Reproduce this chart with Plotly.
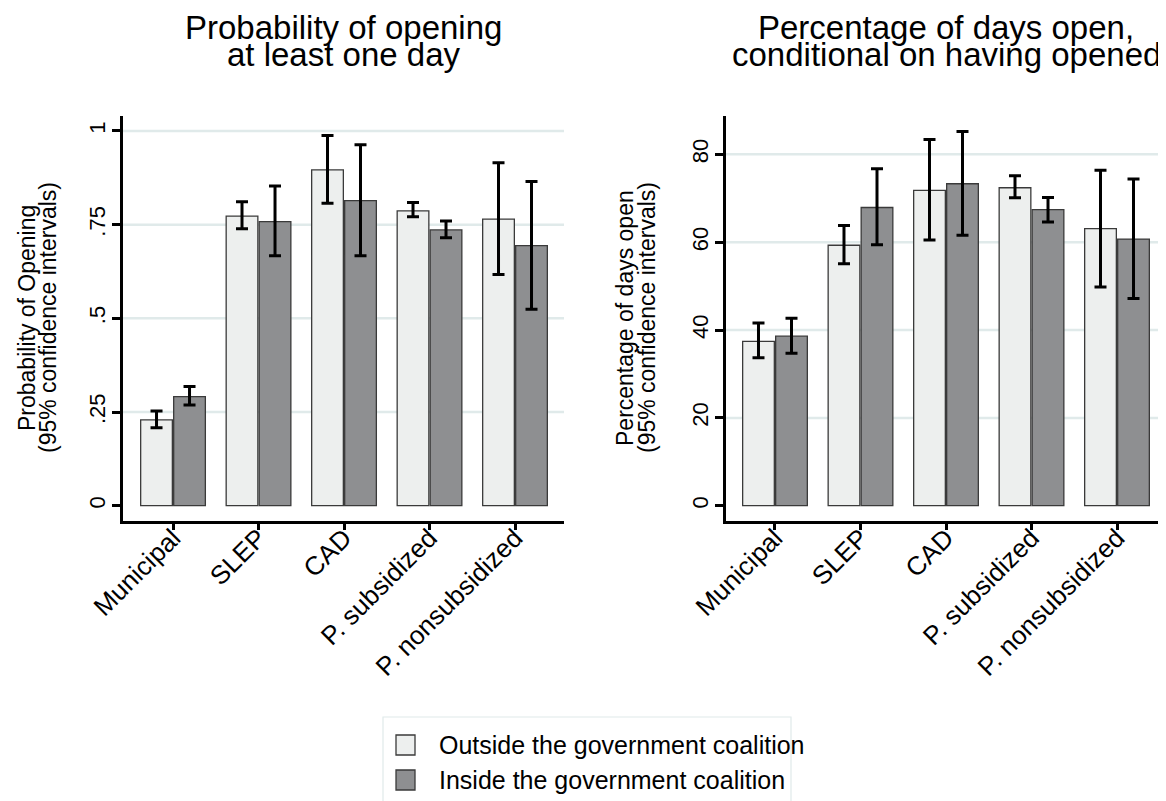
import plotly.graph_objects as go

categories = ["Municipal", "SLEP", "CAD", "P. subsidized", "P. nonsubsidized"]
series_names = ["Outside the government coalition", "Inside the government coalition"]

# Panel 1: probability of opening at least one day
prob_out = [0.229, 0.773, 0.896, 0.787, 0.765]
prob_out_lo = [0.208, 0.739, 0.807, 0.771, 0.617]
prob_out_hi = [0.253, 0.811, 0.988, 0.809, 0.915]
prob_in = [0.291, 0.758, 0.814, 0.736, 0.694]
prob_in_lo = [0.269, 0.667, 0.667, 0.715, 0.524]
prob_in_hi = [0.318, 0.853, 0.963, 0.760, 0.865]

# Panel 2: percentage of days open, conditional on having opened
days_out = [37.4, 59.3, 71.8, 72.4, 63.1]
days_out_lo = [33.7, 55.1, 60.5, 70.1, 49.8]
days_out_hi = [41.6, 63.8, 83.4, 75.1, 76.4]
days_in = [38.6, 67.9, 73.3, 67.4, 60.7]
days_in_lo = [34.7, 59.4, 61.6, 64.6, 47.2]
days_in_hi = [42.7, 76.7, 85.2, 70.2, 74.4]

prob_ticks = [0, 0.25, 0.5, 0.75, 1]
prob_ticktext = ["0", ".25", ".5", ".75", "1"]
days_ticks = [0, 20, 40, 60, 80]
days_ticktext = ["0", "20", "40", "60", "80"]

FONT = "Liberation Sans, Arial, Helvetica, sans-serif"
LIGHT = "#edefee"
DARK = "#8e8f91"
OUTLINE = "#3a3a3a"
GRID = "#e0eaea"
PAGE_OFF = 8            # page body margin in the browser
W, H = 1166 - PAGE_OFF, 801 - PAGE_OFF


def px_x(p):
    return (p - PAGE_OFF) / W


def px_y(p):
    return 1 - (p - PAGE_OFF) / H


fig = go.Figure()


def add_bar(vals, lo, hi, color, name, xa, ya):
    fig.add_trace(go.Bar(
        x=categories, y=vals, name=name, xaxis=xa, yaxis=ya,
        marker=dict(color=color, line=dict(color=OUTLINE, width=1.3)),
        error_y=dict(type="data", symmetric=False,
                     array=[h - v for h, v in zip(hi, vals)],
                     arrayminus=[v - l for v, l in zip(vals, lo)],
                     color="black", thickness=3, width=6),
        showlegend=False,
    ))


add_bar(prob_out, prob_out_lo, prob_out_hi, LIGHT, series_names[0], "x", "y")
add_bar(prob_in, prob_in_lo, prob_in_hi, DARK, series_names[1], "x", "y")
add_bar(days_out, days_out_lo, days_out_hi, LIGHT, series_names[0], "x2", "y2")
add_bar(days_in, days_in_lo, days_in_hi, DARK, series_names[1], "x2", "y2")

xcommon = dict(showline=True, linecolor="black", linewidth=2.5, ticks="outside",
               ticklen=7, tickwidth=2.5, tickcolor="black", tickangle=-45,
               tickfont=dict(family=FONT, size=26, color="black"),
               ticklabelstandoff=-18,
               showgrid=False, zeroline=False, fixedrange=True, automargin=False)
ycommon = dict(showline=True, linecolor="black", linewidth=2.5, ticks="outside",
               ticklen=8, tickwidth=2.5, tickcolor="black", tickangle=-90,
               tickfont=dict(family=FONT, size=22, color="black"),
               ticklabelstandoff=-2,
               showgrid=False, zeroline=False, automargin=False,
               domain=[px_y(520.7), px_y(116)])

fig.update_layout(
    width=W, height=H,
    margin=dict(l=0, r=0, t=0, b=0, autoexpand=False),
    paper_bgcolor="white", plot_bgcolor="white",
    barmode="group", bargap=0.228, bargroupgap=0.04,
    xaxis=dict(domain=[px_x(123), px_x(564)], range=[-0.585, 4.573], anchor="y", **xcommon),
    xaxis2=dict(domain=[px_x(726), 1.0], range=[-0.573, 4.573], anchor="y2", **xcommon),
    yaxis=dict(range=[-0.04, 1.04], tickvals=prob_ticks, ticktext=prob_ticktext,
               anchor="x", **ycommon),
    yaxis2=dict(range=[-3.41, 88.73], tickvals=days_ticks, ticktext=days_ticktext,
                anchor="x2", **ycommon),
    font=dict(family=FONT, color="black"),
)

# gridlines (skip zero)
for t in prob_ticks[1:]:
    fig.add_shape(type="line", xref="x domain", yref="y", x0=0, x1=1, y0=t, y1=t,
                  line=dict(color=GRID, width=2.5), layer="below")
for t in days_ticks[1:]:
    fig.add_shape(type="line", xref="x2 domain", yref="y2", x0=0, x1=1, y0=t, y1=t,
                  line=dict(color=GRID, width=2.5), layer="below")

# titles
titles = [
    (343.5, ["Probability of opening", "at least one day"]),
    (946, ["Percentage of days open,", "conditional on having opened"]),
]
for cx, lines in titles:
    for i, line in enumerate(lines):
        fig.add_annotation(text=line, xref="paper", yref="paper",
                           x=px_x(cx), y=px_y(27 + 27.7 * i),
                           xanchor="center", yanchor="middle", showarrow=False,
                           font=dict(family=FONT, size=33, color="black"))

# y-axis titles
ytitles = [
    ([27, 48], ["Probability of Opening", "(95% confidence intervals)"]),
    ([625, 647], ["Percentage of days open", "(95% confidence intervals)"]),
]
for xs, lines in ytitles:
    for xpos, line in zip(xs, lines):
        fig.add_annotation(text=line, xref="paper", yref="paper",
                           x=px_x(xpos), y=px_y(318), textangle=-90,
                           xanchor="center", yanchor="middle", showarrow=False,
                           font=dict(family=FONT, size=23, color="black"))

# legend
fig.add_shape(type="rect", xref="paper", yref="paper",
              x0=px_x(383), x1=px_x(791), y0=px_y(717), y1=px_y(805),
              line=dict(color=GRID, width=1.2), fillcolor="white", layer="below")
for (cy, color, name) in [(745, LIGHT, series_names[0]), (780, DARK, series_names[1])]:
    fig.add_shape(type="rect", xref="paper", yref="paper",
                  x0=px_x(396), x1=px_x(415), y0=px_y(cy + 10), y1=px_y(cy - 10),
                  line=dict(color=OUTLINE, width=1.3), fillcolor=color)
    fig.add_annotation(text=name, xref="paper", yref="paper",
                       x=px_x(437), y=px_y(cy), xanchor="left", yanchor="middle",
                       showarrow=False, font=dict(family=FONT, size=25, color="black"))

fig.write_html("out.html")
